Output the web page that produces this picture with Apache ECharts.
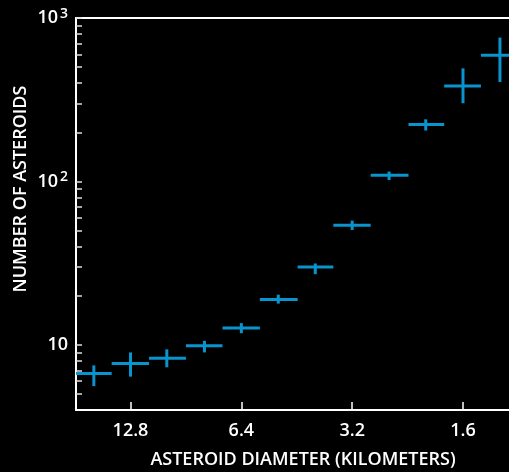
<!DOCTYPE html>
<html>
<head>
<meta charset="utf-8">
<script src="https://cdn.jsdelivr.net/npm/echarts@6/dist/echarts.min.js"></script>
<style>
  html, body { margin: 0; padding: 0; background: #000; }
  #chart { width: 509px; height: 472px; }
</style>
</head>
<body>
<div id="chart"></div>
<script>
// bin centres (km), third-octave bins
const diameters = [16.1, 12.8, 10.2, 8.06, 6.4, 5.08, 4.03, 3.2, 2.54, 2.02, 1.6, 1.27]
// bin edges (km)
const binLarge = [18.1, 14.4, 11.4, 9.05, 7.2, 5.7, 4.5, 3.6, 2.85, 2.25, 1.8, 1.43]
const binSmall = [14.4, 11.4, 9.05, 7.2, 5.7, 4.5, 3.6, 2.85, 2.25, 1.8, 1.43, 1.13]
// number of asteroids and error range
const counts = [6.7, 7.7, 8.3, 9.9, 12.7, 19.0, 30.0, 54, 109, 223, 384, 591]
const countLow = [5.6, 6.4, 7.3, 9.0, 11.8, 17.9, 27.1, 50.5, 102, 205, 301, 406]
const countHigh = [7.5, 9.0, 9.4, 10.6, 13.6, 20.3, 31.5, 57.6, 115, 240, 492, 759]
// axis ticks
const xTickValues = [12.8, 6.4, 3.2, 1.6]
const yLabelValues = [10, 100, 1000]
const yTickValues = [5, 6, 7, 8, 9, 10, 20, 30, 40, 50, 60, 70, 80, 90, 100,
  200, 300, 400, 500, 600, 700, 800, 900, 1000]

const BLUE = '#0894cc'
const FONT = 'Open Sans'

const chart = echarts.init(document.getElementById('chart'))

const data = diameters.map((d, i) => [d, counts[i], binLarge[i], binSmall[i], countLow[i], countHigh[i]])

const xRange = { type: 'log', logBase: 2, inverse: true, min: 1.2, max: 18 }

const option = {
  backgroundColor: '#000',
  animation: false,
  grid: {
    left: 76,
    top: 18,
    bottom: 62,
    right: 0
  },
  xAxis: [
    Object.assign({}, xRange, {
      position: 'bottom',
      axisLine: { show: true, lineStyle: { color: '#fff', width: 2 } },
      axisTick: {
        show: true,
        inside: true,
        length: 8,
        customValues: xTickValues,
        lineStyle: { color: '#fff', width: 1.5 }
      },
      axisLabel: {
        customValues: xTickValues,
        color: '#fff',
        fontFamily: FONT,
        fontWeight: 600,
        fontSize: 18,
        margin: 12,
        formatter: v => v.toFixed(1)
      },
      splitLine: { show: false }
    }),
    // top frame line
    Object.assign({}, xRange, {
      position: 'top',
      axisLine: { show: true, lineStyle: { color: '#fff', width: 2 } },
      axisTick: { show: false },
      axisLabel: { show: false },
      splitLine: { show: false }
    })
  ],
  yAxis: {
    type: 'log',
    min: 4,
    max: 1000,
    axisLine: { show: true, lineStyle: { color: '#fff', width: 2 } },
    axisTick: {
      show: true,
      inside: true,
      length: 6,
      customValues: yTickValues,
      lineStyle: { color: '#ddd', width: 1.5 }
    },
    axisLabel: {
      customValues: yLabelValues,
      color: '#fff',
      fontFamily: FONT,
      fontWeight: 600,
      fontSize: 18,
      margin: 8,
      formatter: v => {
        if (v === 10) return '{b|10}'
        return '{b|10}{s|' + Math.round(Math.log10(v)) + '}'
      },
      rich: {
        b: { fontFamily: FONT, fontWeight: 600, fontSize: 18, color: '#fff', lineHeight: 22 },
        s: { fontFamily: FONT, fontWeight: 600, fontSize: 14, color: '#fff', lineHeight: 22, verticalAlign: 'top', padding: [0, 0, 0, 2] }
      }
    },
    splitLine: { show: false }
  },
  graphic: [
    {
      type: 'text',
      x: 303,
      y: 460,
      style: {
        text: 'ASTEROID DIAMETER (KILOMETERS)',
        fill: '#fff',
        font: '600 18px "Open Sans"',
        textAlign: 'center',
        textVerticalAlign: 'middle'
      }
    },
    {
      type: 'text',
      x: 21,
      y: 189,
      rotation: Math.PI / 2,
      style: {
        text: 'NUMBER OF ASTEROIDS',
        fill: '#fff',
        font: '600 18px "Open Sans"',
        textAlign: 'center',
        textVerticalAlign: 'middle'
      }
    }
  ],
  series: [
    {
      type: 'custom',
      clip: true,
      data: data,
      encode: { x: [0, 2, 3], y: [1, 4, 5] },
      renderItem: (params, api) => {
        const c = api.coord([api.value(0), api.value(1)])
        const l = api.coord([api.value(2), api.value(1)])
        const r = api.coord([api.value(3), api.value(1)])
        const lo = api.coord([api.value(0), api.value(4)])
        const hi = api.coord([api.value(0), api.value(5)])
        const style = { stroke: BLUE, lineWidth: 3 }
        return {
          type: 'group',
          children: [
            { type: 'line', shape: { x1: l[0], y1: l[1], x2: r[0], y2: r[1] }, style: style },
            { type: 'line', shape: { x1: c[0], y1: lo[1], x2: c[0], y2: hi[1] }, style: style }
          ]
        }
      }
    }
  ]
}

chart.setOption(option)
</script>
</body>
</html>
